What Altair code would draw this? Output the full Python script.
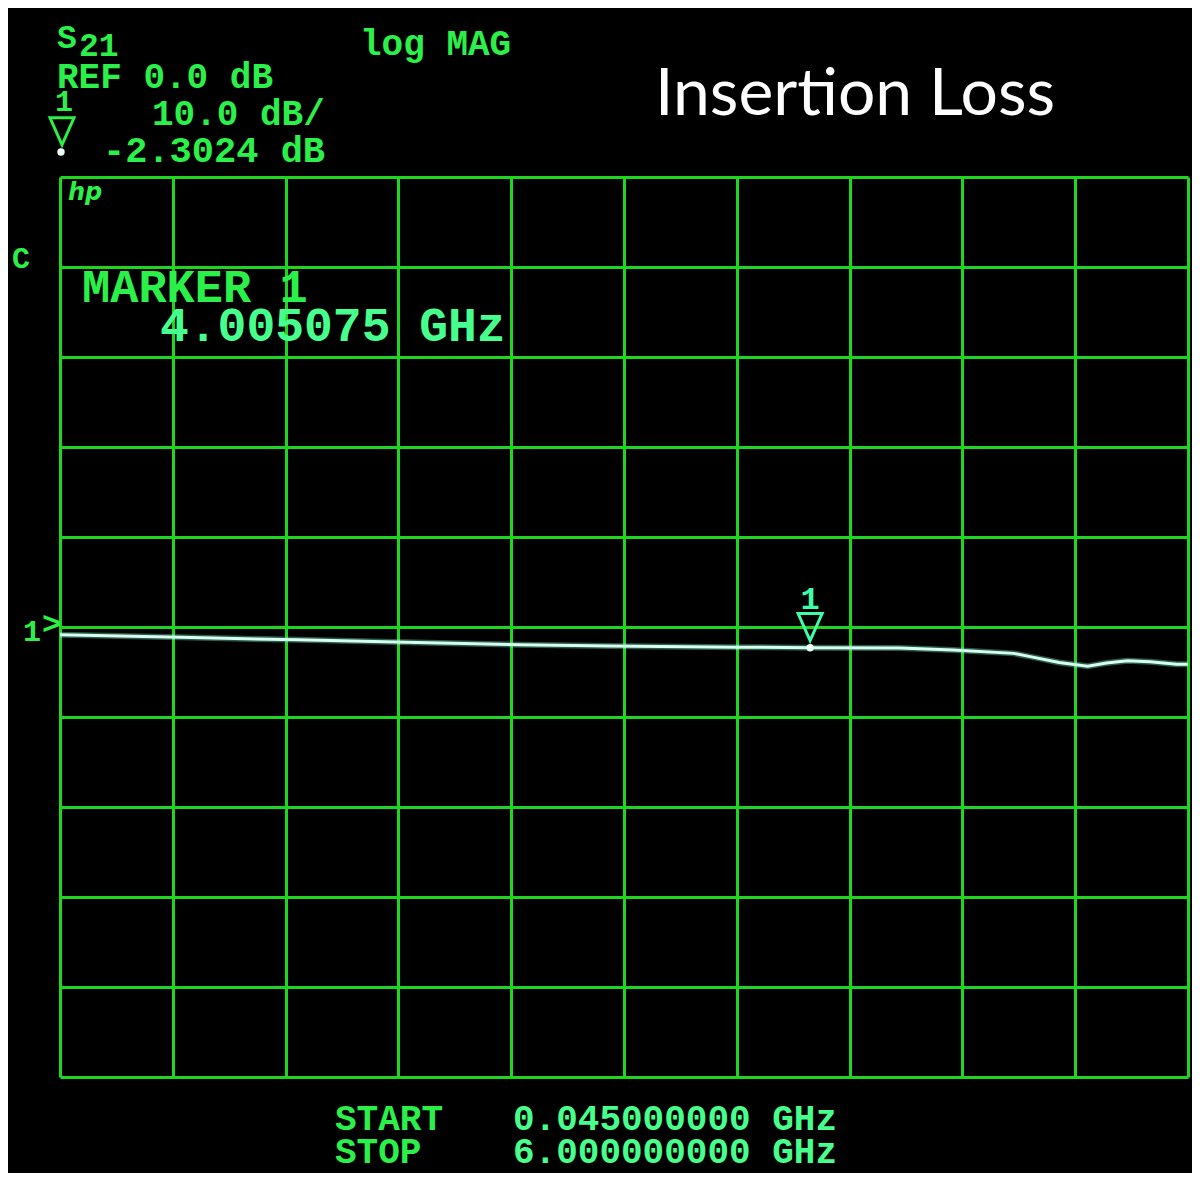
import altair as alt
import pandas as pd

freq_ghz = [0.045, 0.68, 1.30, 1.93, 2.47, 2.95, 3.62, 4.005, 4.48, 4.76,
            5.08, 5.18, 5.32, 5.47, 5.57, 5.68, 5.80, 5.94, 6.0]
s21_db = [-0.85, -1.15, -1.42, -1.72, -1.98, -2.12, -2.24, -2.30, -2.34, -2.55,
          -2.93, -3.35, -3.95, -4.35, -4.00, -3.75, -3.87, -4.15, -4.15]

marker_freq = [4.005075]
marker_db = [-2.3024]
marker_name = ["1"]

start_ghz = 0.045
stop_ghz = 6.0
ref_db = 0.0
db_per_div = 10.0
n_div = 10

grid_x = [start_ghz + k * (stop_ghz - start_ghz) / n_div for k in range(n_div + 1)]
grid_y = [ref_db + (k - n_div // 2) * db_per_div for k in range(n_div + 1)]

GREEN = "#2cf04a"
CYANGREEN = "#46ff8c"
GRID = "#1fd61f"
TRACE = "#d6fff2"
MONO = "Liberation Mono"

trace_df = pd.DataFrame({"freq": freq_ghz, "db": s21_db})
marker_df = pd.DataFrame({"freq": marker_freq, "db": marker_db, "name": marker_name})

xs = alt.Scale(domain=[start_ghz, stop_ghz], nice=False, zero=False)
ys = alt.Scale(domain=[grid_y[0], grid_y[-1]], nice=False, zero=False)

x_axis = alt.Axis(values=grid_x, grid=True, gridColor=GRID, gridWidth=3, gridOpacity=1,
                  labels=False, ticks=False, domain=False, title=None)
y_axis = alt.Axis(values=grid_y, grid=True, gridColor=GRID, gridWidth=3, gridOpacity=1,
                  labels=False, ticks=False, domain=False, title=None)

trace_glow = alt.Chart(trace_df).mark_line(color="#7fffd0", strokeWidth=6, opacity=0.35).encode(
    x=alt.X("freq:Q", scale=xs, axis=x_axis),
    y=alt.Y("db:Q", scale=ys, axis=y_axis),
)
trace = alt.Chart(trace_df).mark_line(color=TRACE, strokeWidth=3).encode(
    x=alt.X("freq:Q", scale=xs),
    y=alt.Y("db:Q", scale=ys),
)

TRI = "M-1,-2.85L1,-2.85L0,-0.6Z"

marker_tri = alt.Chart(marker_df).mark_point(
    shape=TRI, filled=False, stroke="#3dffa8", strokeWidth=3, size=576, opacity=1
).encode(x=alt.X("freq:Q", scale=xs), y=alt.Y("db:Q", scale=ys))

marker_dot = alt.Chart(marker_df).mark_point(
    shape="circle", filled=True, color="#eafff6", size=55, opacity=1
).encode(x=alt.X("freq:Q", scale=xs), y=alt.Y("db:Q", scale=ys))

marker_lbl = alt.Chart(marker_df).mark_text(
    font=MONO, fontSize=32, fontWeight="bold", color="#3dffa8", align="center",
    baseline="alphabetic", dy=-39
).encode(x=alt.X("freq:Q", scale=xs), y=alt.Y("db:Q", scale=ys), text="name:N")


def label(text, x, y, size, color=GREEN, font=MONO, weight="bold", style="normal", align="left"):
    return alt.Chart(alt.Data(values=[{}])).mark_text(
        text=text, font=font, fontSize=size, fontWeight=weight, fontStyle=style,
        color=color, align=align, baseline="alphabetic"
    ).encode(x=alt.value(x), y=alt.value(y))


# reference-level marker "1>" at 0 dB
ref_arrow = alt.Chart(alt.Data(values=[{}])).mark_text(
    text=">", font=MONO, fontSize=32, fontWeight="bold", color=GREEN,
    align="left", baseline="middle", dy=-3
).encode(x=alt.value(-18), y=alt.datum(ref_db, scale=ys))
ref_one = alt.Chart(alt.Data(values=[{}])).mark_text(
    text="1", font=MONO, fontSize=30, fontWeight="bold", color=GREEN,
    align="left", baseline="alphabetic", dy=14
).encode(x=alt.value(-37), y=alt.datum(ref_db, scale=ys))

# header marker symbol
hdr_tri = alt.Chart(alt.Data(values=[{}])).mark_point(
    shape=TRI, filled=False, stroke=GREEN, strokeWidth=3, size=576, opacity=1
).encode(x=alt.value(2), y=alt.value(-25))
hdr_dot = alt.Chart(alt.Data(values=[{}])).mark_point(
    shape="circle", filled=True, color="#eafff6", size=55, opacity=1
).encode(x=alt.value(1), y=alt.value(-25))

texts = [
    label("S", -3, -129, 33),
    label("21", 19, -121, 33),
    label("log MAG", 300, -122, 36),
    label("REF 0.0 dB", -3, -89, 36),
    label("1", -5, -66, 30),
    label("10.0 dB/", 92, -52, 36),
    label("-2.3024 dB", 43, -15, 37),
    label("Insertion Loss", 595, -62, 66, color="white", font="Lato", weight="normal"),
    label("hp", 8, 23, 24, style="italic", font="DejaVu Sans"),
    label("C", -48, 91, 30),
    label("MARKER 1", 22, 125, 47),
    label("4.005075 GHz", 100, 164, 48, color=CYANGREEN),
    label("START", 275, 953, 36),
    label("0.045000000 GHz", 453, 953, 36, color=CYANGREEN),
    label("STOP", 275, 986, 36),
    label("6.000000000 GHz", 453, 986, 36, color=CYANGREEN),
]

chart = alt.layer(
    trace_glow, trace, marker_tri, marker_dot, marker_lbl, ref_arrow, ref_one,
    hdr_tri, hdr_dot, *texts
).properties(
    width=1128,
    height=900,
    autosize=alt.AutoSizeParams(type="none"),
    padding={"left": 52, "top": 169, "right": 4, "bottom": 96},
    background="black",
).configure_view(stroke=None)

chart.save("out.html", embed_options={"renderer": "svg", "actions": False})
